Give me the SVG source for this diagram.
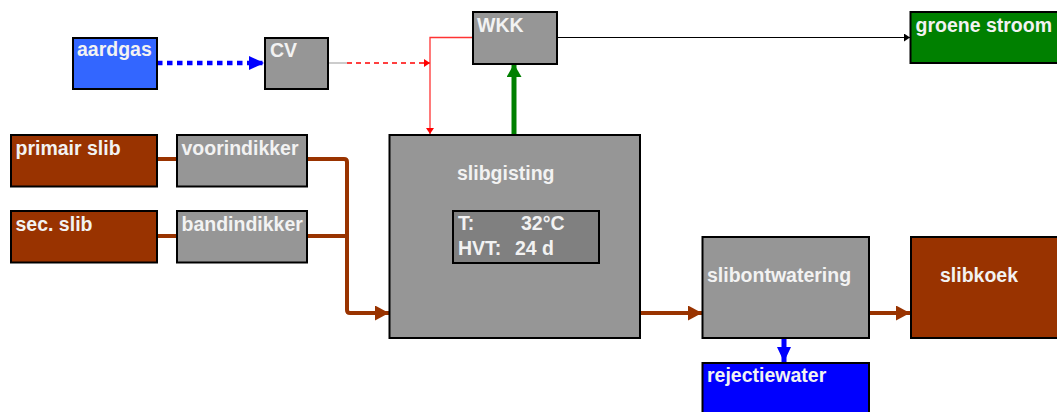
<svg xmlns="http://www.w3.org/2000/svg" width="1057" height="412" viewBox="0 0 1057 412">
<style>
.box{stroke:#000;stroke-width:2}
.gray{fill:#969696}
.brown{fill:#993300}
.lbl{font-family:"Liberation Sans",Arial,sans-serif;font-weight:bold;font-size:19.5px;fill:#F2F2F2}
.br{fill:none;stroke:#993300;stroke-width:4}
</style>
<defs>
<marker id="mBlue" markerUnits="userSpaceOnUse" markerWidth="16" markerHeight="14" refX="15" refY="7" orient="auto"><path d="M0,0 L15,7 L0,14 Z" fill="#0000FF"/></marker>
<marker id="mRed" markerUnits="userSpaceOnUse" markerWidth="7" markerHeight="8" refX="6" refY="4" orient="auto"><path d="M0,0 L6,4 L0,8 Z" fill="#FF0000"/></marker>
<marker id="mBlack" markerUnits="userSpaceOnUse" markerWidth="7" markerHeight="8" refX="6" refY="4" orient="auto"><path d="M0,0 L6,4 L0,8 Z" fill="#000"/></marker>
<marker id="mGreen" markerUnits="userSpaceOnUse" markerWidth="16" markerHeight="16" refX="13" refY="7.5" orient="auto"><path d="M0,0 L13,7.5 L0,15 Z" fill="#008000"/></marker>
<marker id="mBrown" markerUnits="userSpaceOnUse" markerWidth="16" markerHeight="16" refX="14" refY="7.5" orient="auto"><path d="M0,0 L14,7.5 L0,15 Z" fill="#993300"/></marker>
<marker id="mBlueD" markerUnits="userSpaceOnUse" markerWidth="16" markerHeight="16" refX="15" refY="7" orient="auto"><path d="M0,0 L15,7 L0,14 Z" fill="#0000FF"/></marker>
</defs>

<g id="connectors">
<path d="M157,63 H264" fill="none" stroke="#0000FF" stroke-width="4.5" stroke-dasharray="5.5 4.5" marker-end="url(#mBlue)"/>
<path d="M328,63 H347" stroke="#BBBBBB" stroke-width="1.5"/>
<path d="M347,63 H430" fill="none" stroke="#FF0000" stroke-width="1.3" stroke-dasharray="5 4" marker-end="url(#mRed)"/>
<path d="M473,37.5 H430 V134" fill="none" stroke="#FF3333" stroke-width="1.3" marker-end="url(#mRed)"/>
<path d="M514,135 V64" fill="none" stroke="#008000" stroke-width="5" marker-end="url(#mGreen)"/>
<path d="M557,37.5 H910" fill="none" stroke="#000" stroke-width="1.2" marker-end="url(#mBlack)"/>
<path d="M157,159 H177" class="br"/>
<path d="M157,236 H177" class="br"/>
<path d="M307,159 H344 Q347,159 347,162 V310 Q347,313 350,313 H389" class="br" marker-end="url(#mBrown)"/>
<path d="M307,236 H347" class="br"/>
<path d="M640,313 H702" class="br" marker-end="url(#mBrown)"/>
<path d="M869,313 H910" class="br" marker-end="url(#mBrown)"/>
<path d="M784,338 V362" fill="none" stroke="#0000FF" stroke-width="5" marker-end="url(#mBlueD)"/>
</g>

<g id="aardgas"><rect x="73" y="38" width="84" height="51" class="box" fill="#3366FF"/><text x="77" y="56" class="lbl">aardgas</text></g>
<g id="cv"><rect x="265" y="38" width="63" height="51" class="box gray"/><text x="270" y="56.5" class="lbl">CV</text></g>
<g id="wkk"><rect x="473" y="12" width="84" height="52" class="box gray"/><text x="477" y="32" class="lbl">WKK</text></g>
<g id="groene-stroom"><rect x="910.5" y="12" width="150" height="51" class="box" fill="#008000"/><text x="915.5" y="32" class="lbl">groene stroom</text></g>
<g id="primair-slib"><rect x="11" y="135" width="146" height="51.5" class="box brown"/><text x="15.5" y="154.5" class="lbl">primair slib</text></g>
<g id="voorindikker"><rect x="177" y="135" width="130" height="51.5" class="box gray"/><text x="181.5" y="154.5" class="lbl">voorindikker</text></g>
<g id="sec-slib"><rect x="11" y="211" width="146" height="51.5" class="box brown"/><text x="15.5" y="230.5" class="lbl">sec. slib</text></g>
<g id="bandindikker"><rect x="177" y="211" width="130" height="51.5" class="box gray"/><text x="181.5" y="230.5" class="lbl">bandindikker</text></g>
<g id="slibgisting">
<rect x="389.5" y="135" width="250.5" height="203" class="box gray"/>
<text x="457" y="180" class="lbl">slibgisting</text>
<rect x="453" y="211" width="146" height="52" class="box" fill="#808080"/>
<text x="458" y="230" class="lbl">T:</text>
<text x="521" y="230" class="lbl">32°C</text>
<text x="458" y="255" class="lbl">HVT:</text>
<text x="515" y="255" class="lbl">24 d</text>
</g>
<g id="slibontwatering"><rect x="702.5" y="237" width="166.5" height="101" class="box gray"/><text x="707" y="281.5" class="lbl">slibontwatering</text></g>
<g id="slibkoek"><rect x="911" y="237" width="150" height="101" class="box brown"/><text x="940" y="281.5" class="lbl">slibkoek</text></g>
<g id="rejectiewater"><rect x="702.5" y="363" width="166.5" height="55" class="box" fill="#0000FF"/><text x="707" y="382" class="lbl">rejectiewater</text></g>
</svg>
